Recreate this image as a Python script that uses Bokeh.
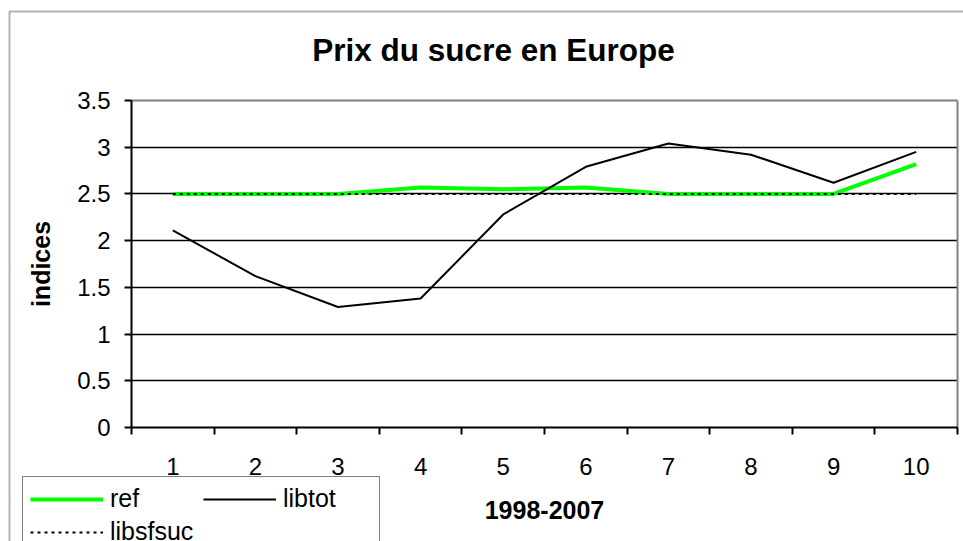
from bokeh.plotting import figure
from bokeh.models import (Range1d, FixedTicker, Legend, LegendItem, BoxAnnotation,
                          Grid, Label)
from bokeh.embed import file_html
from bokeh.resources import INLINE

# ---- data ----
categories = ["1", "2", "3", "4", "5", "6", "7", "8", "9", "10"]
x_pos = [1, 2, 3, 4, 5, 6, 7, 8, 9, 10]
ref = [2.50, 2.50, 2.50, 2.57, 2.55, 2.57, 2.50, 2.50, 2.50, 2.82]
libtot = [2.11, 1.62, 1.29, 1.38, 2.28, 2.79, 3.04, 2.92, 2.62, 2.95]
libsfsuc = [2.50, 2.50, 2.50, 2.50, 2.50, 2.50, 2.50, 2.50, 2.50, 2.50]
y_ticks = [0, 0.5, 1, 1.5, 2, 2.5, 3, 3.5]
y_grid = [0.5, 1, 1.5, 2, 2.5, 3]
x_bounds = [0.5, 1.5, 2.5, 3.5, 4.5, 5.5, 6.5, 7.5, 8.5, 9.5, 10.5]
X_MIN, X_MAX = 0.5, 10.5
Y_MIN, Y_MAX = 0.0, 3.5

FONT = "Liberation Sans"

# ---- layout (canvas pixels) ----
W, H = 963, 541
PX_L, PX_R, PX_T, PX_B = 131, 957, 100, 427   # plot-area edges on the canvas
xs = (X_MAX - X_MIN) / (PX_R - PX_L)
ys = (Y_MAX - Y_MIN) / (PX_B - PX_T)
x_range = Range1d(X_MIN - PX_L * xs, X_MAX + (W - PX_R) * xs)
y_range = Range1d(Y_MIN - (H - PX_B) * ys, Y_MAX + PX_T * ys)

p = figure(width=W, height=H, output_backend="svg", toolbar_location=None,
           x_range=x_range, y_range=y_range, title_location=None,
           min_border=0, min_border_left=0, min_border_right=0,
           min_border_top=0, min_border_bottom=0)

p.background_fill_color = "white"
p.border_fill_color = "white"
p.outline_line_color = None

# ---- grid ----
p.xgrid.visible = False
p.ygrid.ticker = FixedTicker(ticks=y_grid)
p.ygrid.grid_line_color = "black"
p.ygrid.grid_line_width = 1.6
p.ygrid.cross_bounds = (X_MIN, X_MAX)

# plot-area border (top and right, grey)
top_line = Grid(dimension=1, ticker=FixedTicker(ticks=[Y_MAX]),
                cross_bounds=(X_MIN, X_MAX), grid_line_color="#808080",
                grid_line_width=2)
right_line = Grid(dimension=0, ticker=FixedTicker(ticks=[X_MAX]),
                  cross_bounds=(Y_MIN, Y_MAX), grid_line_color="#808080",
                  grid_line_width=2)
p.add_layout(top_line)
p.add_layout(right_line)

# ---- axes ----
xa = p.xaxis[0]
xa.fixed_location = Y_MIN
xa.bounds = (X_MIN, X_MAX)
xa.ticker = FixedTicker(ticks=x_pos, minor_ticks=x_bounds)
xa.major_label_overrides = {x: c for x, c in zip(x_pos, categories)}
xa.major_tick_out = 0
xa.major_tick_in = 0
xa.minor_tick_out = 7
xa.minor_tick_in = 0
xa.minor_tick_line_color = "black"
xa.minor_tick_line_width = 2
xa.axis_line_color = "black"
xa.axis_line_width = 2
xa.major_label_text_font = FONT
xa.major_label_text_font_size = "24px"
xa.major_label_text_color = "black"
xa.major_label_standoff = 23
xa.axis_label = "1998-2007"
xa.axis_label_text_font = FONT
xa.axis_label_text_font_size = "25px"
xa.axis_label_text_font_style = "bold"
xa.axis_label_text_color = "black"
xa.axis_label_standoff = 23

ya = p.yaxis[0]
ya.fixed_location = X_MIN
ya.bounds = (Y_MIN, Y_MAX)
ya.ticker = FixedTicker(ticks=y_ticks)
ya.major_label_overrides = {0: "0", 0.5: "0.5", 1: "1", 1.5: "1.5", 2: "2",
                            2.5: "2.5", 3: "3", 3.5: "3.5"}
ya.major_tick_out = 7
ya.major_tick_in = 0
ya.minor_tick_out = 0
ya.minor_tick_in = 0
ya.major_tick_line_color = "black"
ya.major_tick_line_width = 2
ya.axis_line_color = "black"
ya.axis_line_width = 2
ya.major_label_text_font = FONT
ya.major_label_text_font_size = "24px"
ya.major_label_text_color = "black"
ya.major_label_standoff = 14
ya.axis_label = "indices"
ya.axis_label_text_font = FONT
ya.axis_label_text_font_size = "25px"
ya.axis_label_text_font_style = "bold"
ya.axis_label_text_color = "black"
ya.axis_label_standoff = 19

# ---- series ----
r_ref = p.line(x_pos, ref, line_color="#00FF00", line_width=4)
r_tot = p.line(x_pos, libtot, line_color="black", line_width=2)
r_sf = p.line(x_pos, libsfsuc, line_color="black", line_width=2, line_dash="3 4")

# ---- legend ----
LEG_H = 7 + 28 + 5 + 28 + 7 + 4
LEG_LEFT, LEG_TOP = 22, 475
legend = Legend(items=[LegendItem(label="ref", renderers=[r_ref]),
                       LegendItem(label="libtot", renderers=[r_tot]),
                       LegendItem(label="libsfsuc", renderers=[r_sf])],
                location=(LEG_LEFT, H - LEG_TOP - LEG_H),
                orientation="horizontal", ncols=2,
                glyph_width=73, glyph_height=28, label_height=28, label_width=89,
                label_standoff=7, padding=7, spacing=4, margin=0,
                border_line_color="black", border_line_width=1.5,
                background_fill_color="white", background_fill_alpha=1.0,
                label_text_font=FONT, label_text_font_size="25px",
                label_text_color="black")
p.add_layout(legend, "center")

# ---- title ----
title = Label(x=493, y=H - 49, x_units="screen", y_units="screen",
              text="Prix du sucre en Europe", text_font=FONT,
              text_font_size="31.5px", text_font_style="bold", text_color="black",
              text_align="center", text_baseline="middle")
p.add_layout(title)

# ---- outer chart border (left and top edges visible) ----
p.add_layout(BoxAnnotation(left=9, right=W + 50, top=H - 11, bottom=-50,
                           left_units="screen", right_units="screen",
                           top_units="screen", bottom_units="screen",
                           fill_alpha=0, line_color="black", line_width=2))

open("out.html", "w").write(file_html(p, INLINE))
